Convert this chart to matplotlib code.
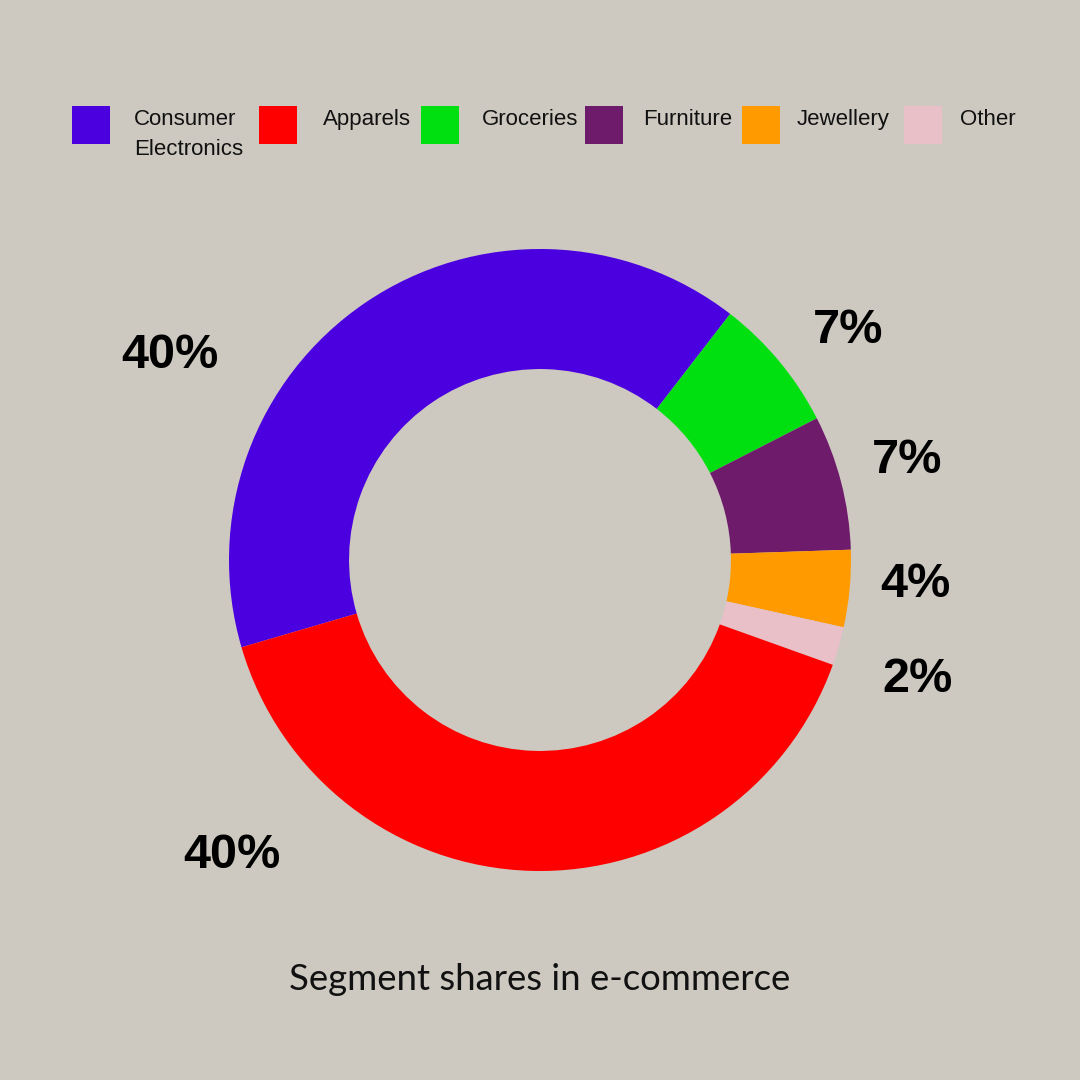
import matplotlib
matplotlib.use("Agg")
import matplotlib.pyplot as plt
from matplotlib.patches import Rectangle

# ---- data ----
categories = ["Consumer\nElectronics", "Apparels", "Groceries", "Furniture", "Jewellery", "Other"]
shares = [40, 40, 7, 7, 4, 2]
colors = ["#4B00E0", "#FF0000", "#00E010", "#6E1B6B", "#FF9A00", "#E9C0C8"]
pct_labels = ["40%", "40%", "7%", "7%", "4%", "2%"]
title = "Segment shares in e-commerce"

# drawing order around the ring (clockwise)
ring_order = [0, 2, 3, 4, 5, 1]

# ---- layout (pixels of a 1080x1080 canvas) ----
W = H = 1080
BG = "#CDC9C0"
cx, cy, R = 540, 560, 311
label_pos = {0: (170, 368), 1: (232, 868), 2: (848, 343), 3: (907, 473), 4: (915, 597), 5: (917, 692)}
legend_sq_x = [72, 259, 421, 585, 742, 904]
legend_txt_x = [134, 323, 482, 643, 797, 960]
sq_top, sq_size = 106, 38

bold_fam = ["Liberation Sans", "DejaVu Sans"]
reg_fam = ["Liberation Sans", "DejaVu Sans"]

fig = plt.figure(figsize=(W / 100, H / 100), dpi=100, facecolor=BG)

def fx(x):
    return x / W

def fy(y):
    return 1 - y / H

ax = fig.add_axes([fx(cx - R), fy(cy + R), 2 * R / W, 2 * R / H])
ax.set_facecolor(BG)
vals = [shares[i] for i in ring_order]
cols = [colors[i] for i in ring_order]
ax.pie(vals, colors=cols, startangle=196.3, counterclock=False, radius=1,
       wedgeprops=dict(width=0.386, linewidth=0))
ax.set_xlim(-1, 1)
ax.set_ylim(-1, 1)
ax.set_aspect("equal")
ax.axis("off")

# percentage labels
for i, lab in enumerate(pct_labels):
    x, y = label_pos[i]
    fig.text(fx(x), fy(y), lab, ha="center", va="baseline", fontsize=35,
             fontweight="bold", family=bold_fam, color="black")

# legend
for i, name in enumerate(categories):
    fig.patches.append(Rectangle((fx(legend_sq_x[i]), fy(sq_top + sq_size)), sq_size / W, sq_size / H,
                                 transform=fig.transFigure, facecolor=colors[i], edgecolor="none"))
    lines = name.split("\n")
    for k, ln in enumerate(lines):
        fig.text(fx(legend_txt_x[i]), fy(125 + 30 * k), ln, ha="left", va="baseline",
                 fontsize=16, family=reg_fam, color="#111111")

# title
fig.text(0.5, fy(990), title, ha="center", va="baseline", fontsize=26.3,
         family=["Lato", "DejaVu Sans"], color="#111111")

fig.savefig("out.png", dpi=100, facecolor=BG)
